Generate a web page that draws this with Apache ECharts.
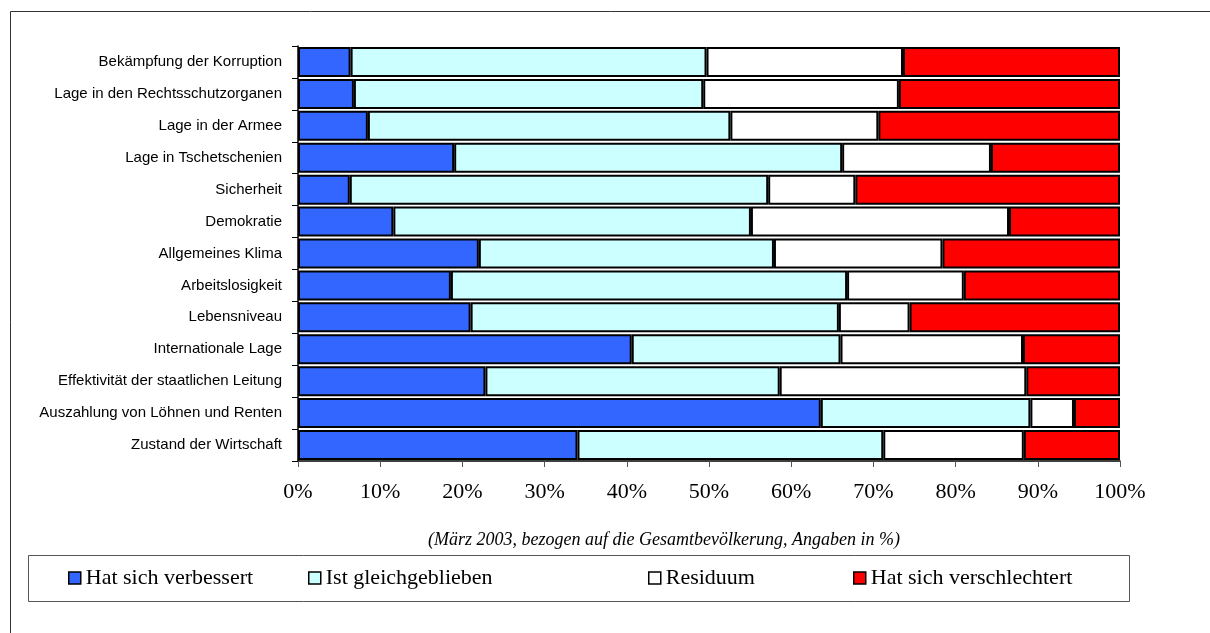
<!DOCTYPE html>
<html>
<head>
<meta charset="utf-8">
<script src="https://cdn.jsdelivr.net/npm/echarts@6/dist/echarts.min.js"></script>
<style>
html,body{margin:0;padding:0;background:#fff;}
#chart{width:1210px;height:633px;}
</style>
</head>
<body>
<div id="chart"></div>
<script>
const categories = [
  "Bekämpfung der Korruption",
  "Lage in den Rechtsschutzorganen",
  "Lage in der Armee",
  "Lage in Tschetschenien",
  "Sicherheit",
  "Demokratie",
  "Allgemeines Klima",
  "Arbeitslosigkeit",
  "Lebensniveau",
  "Internationale Lage",
  "Effektivität der staatlichen Leitung",
  "Auszahlung von Löhnen und Renten",
  "Zustand der Wirtschaft"
];
const verbessert =      [6.4, 6.8, 8.5, 19.0, 6.3, 11.6, 22.0, 18.6, 21.0, 40.6, 22.8, 63.6, 34.0];
const gleichgeblieben = [43.3, 42.5, 44.1, 47.2, 50.9, 43.5, 35.9, 48.2, 44.8, 25.4, 35.8, 25.5, 37.2];
const residuum =        [23.9, 23.8, 18.0, 18.1, 10.6, 31.4, 20.5, 14.2, 8.6, 22.2, 30.0, 5.3, 17.1];
const verschlechtert =  [26.4, 26.9, 29.4, 15.7, 32.2, 13.5, 21.6, 19.0, 25.6, 11.8, 11.4, 5.6, 11.7];
const seriesNames = ["Hat sich verbessert", "Ist gleichgeblieben", "Residuum", "Hat sich verschlechtert"];
const subtitle = "(März 2003, bezogen auf die Gesamtbevölkerung, Angaben in %)";

const colors = ["#3366FF", "#CCFFFF", "#FFFFFF", "#FF0000"];
const values = [verbessert, gleichgeblieben, residuum, verschlechtert];
const serif = "'Liberation Serif', 'DejaVu Serif', serif";

const chart = echarts.init(document.getElementById('chart'), null, {renderer: 'canvas'});

const legendLefts = [68, 308, 648, 853];

const option = {
  animation: false,
  backgroundColor: '#fff',
  grid: {left: 298, right: 90, top: 46, bottom: 172, containLabel: false},
  xAxis: {
    type: 'value', min: 0, max: 100, interval: 10,
    axisLine: {show: true, lineStyle: {color: '#000', width: 1.5}},
    axisTick: {show: true, length: 6, lineStyle: {color: '#555', width: 1}},
    splitLine: {show: false},
    axisLabel: {formatter: '{value}%', fontFamily: serif, fontSize: 22, color: '#000', margin: 20}
  },
  yAxis: {
    type: 'category', data: categories, inverse: true,
    axisLine: {show: true, lineStyle: {color: '#000', width: 1.5}},
    axisTick: {show: true, length: 6, lineStyle: {color: '#000', width: 1}},
    axisLabel: {fontFamily: "'Liberation Sans', Arial, sans-serif", fontSize: 15, color: '#000', margin: 16}
  },
  legend: seriesNames.map((n, i) => ({
    data: [n], left: legendLefts[i], top: 567, orient: 'horizontal',
    itemWidth: 12, itemHeight: 12, icon: 'rect',
    itemStyle: {borderColor: '#000', borderWidth: 1.5},
    textStyle: {fontFamily: serif, fontSize: 22, color: '#000'},
    selectedMode: false, padding: 0
  })),
  graphic: [
    {type: 'rect', shape: {x: 10.5, y: 11.5, width: 1400, height: 800}, style: {fill: 'none', stroke: '#333', lineWidth: 1}, silent: true, z: -10},
    {type: 'rect', shape: {x: 28.5, y: 555.5, width: 1101, height: 46}, style: {fill: 'none', stroke: '#555', lineWidth: 1}, silent: true},
    {type: 'text', x: 664, y: 540, style: {text: subtitle, fontFamily: serif, fontStyle: 'italic', fontSize: 18, fill: '#000', textAlign: 'center', textVerticalAlign: 'middle'}, silent: true}
  ],
  series: seriesNames.map((n, i) => ({
    name: n, type: 'bar', stack: 'total', data: values[i],
    barCategoryGap: '6%',
    itemStyle: {color: colors[i], borderColor: '#000', borderWidth: 2},
    emphasis: {disabled: true}
  }))
};
chart.setOption(option);
</script>
</body>
</html>
